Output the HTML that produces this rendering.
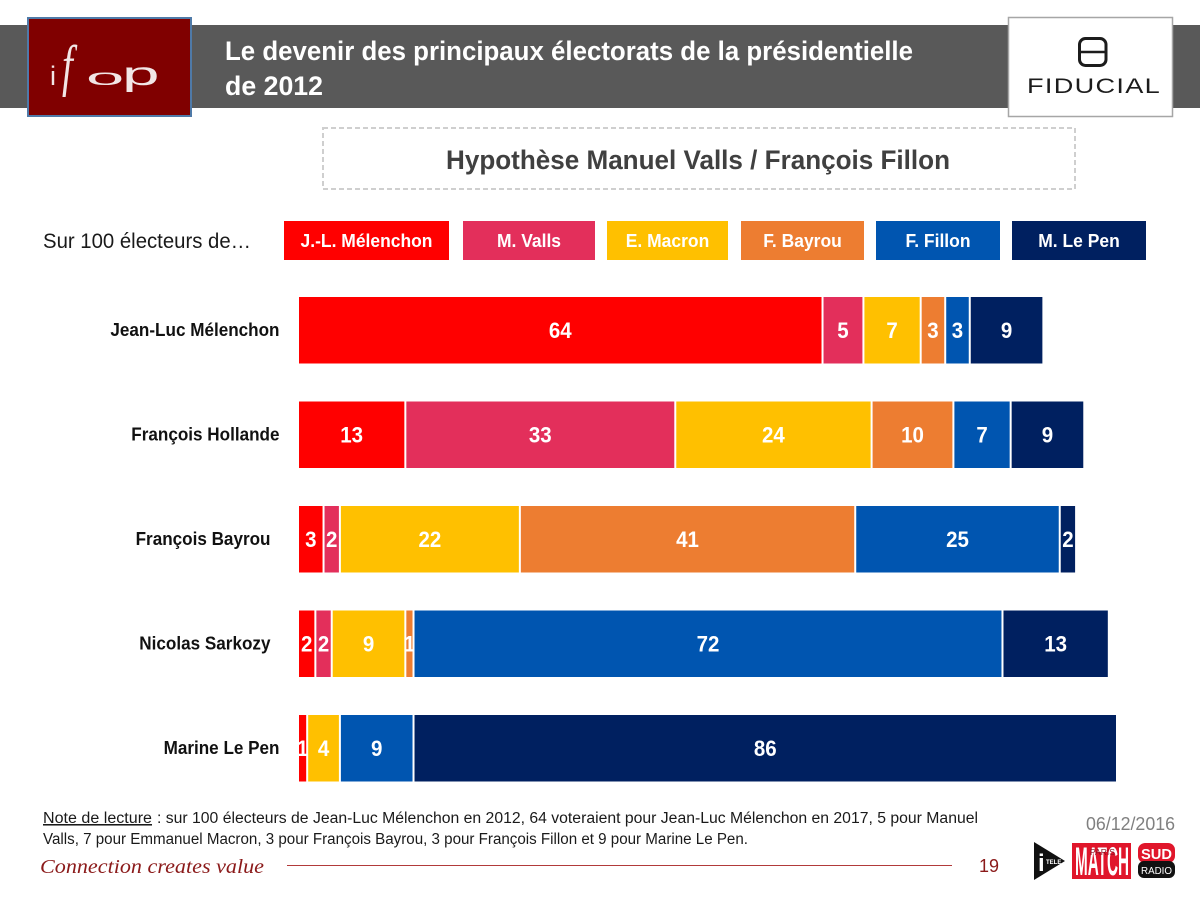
<!DOCTYPE html>
<html lang="fr">
<head>
<meta charset="utf-8">
<title>Le devenir des principaux électorats de la présidentielle de 2012</title>
<style>
html,body{margin:0;padding:0;background:#fff;}
svg{display:block;font-family:"Liberation Sans",sans-serif;}
</style>
</head>
<body>
<svg id="chart" width="1200" height="900" viewBox="0 0 1200 900" xmlns="http://www.w3.org/2000/svg">
  <rect x="0" y="0" width="1200" height="900" fill="#ffffff"/>
  <rect x="0" y="25" width="1200" height="83" fill="#595959"/>

  <g>
    <rect x="28" y="18" width="163" height="98" fill="#800000" stroke="#4f7aa8" stroke-width="2"/>
    <text x="50" y="85" font-size="27" fill="#f2e6e6">i</text>
    <text transform="translate(62,85) scale(1.5,2.2)" font-size="26" font-style="italic" font-family="Liberation Serif" fill="#f2e6e6">f</text>
    <text transform="translate(86,85) scale(2.55,0.85)" font-size="27" fill="#f2e6e6">o</text>
    <text transform="translate(122,85) scale(2.5,1.25)" font-size="27" fill="#f2e6e6">p</text>
  </g>

  <text x="225" y="60" font-size="27" font-weight="700" fill="#ffffff" textLength="688" lengthAdjust="spacingAndGlyphs">Le devenir des principaux électorats de la présidentielle</text>
  <text x="225" y="95" font-size="27" font-weight="700" fill="#ffffff" textLength="98" lengthAdjust="spacingAndGlyphs">de 2012</text>

  <g>
    <rect x="1008.5" y="17.5" width="164" height="99" fill="#ffffff" stroke="#a6a6a6" stroke-width="1.5"/>
    <rect x="1079.5" y="38.5" width="26.5" height="27" rx="6" fill="none" stroke="#1c1c1c" stroke-width="3"/>
    <line x1="1080" y1="52" x2="1106" y2="52" stroke="#1c1c1c" stroke-width="2.4"/>
    <text x="1027" y="93" font-size="21" fill="#1c1c1c" textLength="134" lengthAdjust="spacingAndGlyphs" letter-spacing="1">FIDUCIAL</text>
  </g>

  <rect x="323" y="128" width="752" height="61" fill="#ffffff" stroke="#cfcfcf" stroke-width="2" stroke-dasharray="5 3"/>
  <text x="446" y="169" font-size="27" font-weight="700" fill="#404040" textLength="504" lengthAdjust="spacingAndGlyphs">Hypothèse Manuel Valls / François Fillon</text>

  <text x="43" y="248" font-size="21" fill="#1a1a1a" textLength="208" lengthAdjust="spacingAndGlyphs">Sur 100 électeurs de…</text>

  <g id="legend"></g>
  <g id="plot"></g>

  <text x="43" y="823" font-size="15.5" fill="#1a1a1a" text-decoration="underline" textLength="109" lengthAdjust="spacingAndGlyphs">Note de lecture</text>
  <text x="157" y="823" font-size="15.5" fill="#1a1a1a" textLength="821" lengthAdjust="spacingAndGlyphs">: sur 100 électeurs de Jean-Luc Mélenchon en 2012, 64 voteraient pour Jean-Luc Mélenchon en 2017, 5 pour Manuel</text>
  <text x="43" y="844" font-size="15.5" fill="#1a1a1a" textLength="705" lengthAdjust="spacingAndGlyphs">Valls, 7 pour Emmanuel Macron, 3 pour François Bayrou, 3 pour François Fillon et 9 pour Marine Le Pen.</text>

  <text x="40" y="873" font-size="20" font-style="italic" font-family="Liberation Serif" fill="#8b1a1a" textLength="224" lengthAdjust="spacingAndGlyphs">Connection creates value</text>
  <line x1="287" y1="865.5" x2="952" y2="865.5" stroke="#b23a3a" stroke-width="1"/>
  <text x="979" y="872" font-size="18" fill="#8b1a1a" textLength="20" lengthAdjust="spacingAndGlyphs">19</text>
  <text x="1086" y="830" font-size="18" fill="#808080" textLength="89" lengthAdjust="spacingAndGlyphs">06/12/2016</text>

  <g>
    <polygon points="1034,842 1065,861 1034,880" fill="#111111"/>
    <text x="1038" y="871" font-size="24" font-weight="700" fill="#ffffff">i</text>
    <text x="1046" y="864" font-size="6" font-weight="700" fill="#ffffff">TELE</text>
  </g>
  <g>
    <rect x="1072" y="843" width="59" height="36" fill="#e0162b"/>
    <text x="1075" y="875" font-size="40" font-weight="700" fill="#ffffff" textLength="54" lengthAdjust="spacingAndGlyphs">MATCH</text>
    <text x="1090" y="855" font-size="8" fill="#8b1020" textLength="25" lengthAdjust="spacingAndGlyphs">PARIS</text>
  </g>
  <g>
    <rect x="1138" y="843" width="37" height="20" rx="7" fill="#e0162b"/>
    <rect x="1138" y="861" width="37" height="17" rx="6" fill="#111111"/>
    <text x="1141" y="859" font-size="15" font-weight="700" fill="#ffffff" textLength="31" lengthAdjust="spacingAndGlyphs">SUD</text>
    <text x="1141" y="874" font-size="10" fill="#ffffff" textLength="31" lengthAdjust="spacingAndGlyphs">RADIO</text>
  </g>
</svg>
<script>
const categories = ["Jean-Luc Mélenchon", "François Hollande", "François Bayrou", "Nicolas Sarkozy", "Marine Le Pen"];
const seriesNames = ["J.-L. Mélenchon", "M. Valls", "E. Macron", "F. Bayrou", "F. Fillon", "M. Le Pen"];
const melenchonValues = [64, 13, 3, 2, 1];
const vallsValues = [5, 33, 2, 2, 0];
const macronValues = [7, 24, 22, 9, 4];
const bayrouValues = [3, 10, 41, 1, 0];
const fillonValues = [3, 7, 25, 72, 9];
const lePenValues = [9, 9, 2, 13, 86];

const allSeries = [melenchonValues, vallsValues, macronValues, bayrouValues, fillonValues, lePenValues];
const seriesColors = ["#ff0000", "#e32f5b", "#ffc000", "#ed7d31", "#0055b0", "#002060"];
const legendBoxes = [[284, 165], [463, 132], [607, 121], [741, 123], [876, 124], [1012, 134]];
const narrowLabelRows = new Set([2, 3]);

const SVG_NS = "http://www.w3.org/2000/svg";
const plot = document.getElementById("plot");
const legend = document.getElementById("legend");

function xScale(v) { return 299 + v * 8.18; }
function rowTop(i) { return 297 + i * 104.5; }
const rowHeight = 66.5;

function make(tag, attrs, parent, content) {
  const el = document.createElementNS(SVG_NS, tag);
  Object.keys(attrs).forEach(function (k) { el.setAttribute(k, attrs[k]); });
  if (content !== undefined) el.textContent = content;
  parent.appendChild(el);
  return el;
}

function condense(el, factor) {
  el.setAttribute("textLength", (el.getComputedTextLength() * factor).toFixed(1));
  el.setAttribute("lengthAdjust", "spacingAndGlyphs");
}

seriesNames.forEach(function (name, s) {
  const box = legendBoxes[s];
  const swatch = make("rect", { x: box[0], y: 221, width: box[1], height: 39, fill: seriesColors[s] }, legend);
  
  
  const label = make("text", {
    x: box[0] + box[1] / 2, y: 247, "text-anchor": "middle",
    "font-size": 18, "font-weight": 700, fill: "#ffffff"
  }, legend, name);
  
  
  condense(label, 0.97);
});

categories.forEach(function (cat, i) {
  const top = rowTop(i);
  const right = narrowLabelRows.has(i) ? 270.5 : 279.5;
  const catLabel = make("text", {
    x: right, y: top + rowHeight / 2 + 5.5, "text-anchor": "end",
    "font-size": 18, "font-weight": 700, fill: "#111111"
  }, plot, cat);
  
  
  condense(catLabel, 0.95);

  let cum = 0;
  allSeries.forEach(function (values, s) {
    const v = values[i];
    if (!v) return;
    const x0 = xScale(cum) + (cum === 0 ? 0 : 1);
    const x1 = xScale(cum + v) - 1;
    const bar = make("rect", { x: x0, y: top, width: x1 - x0, height: rowHeight, fill: seriesColors[s] }, plot);
    
    
    const valueLabel = make("text", {
      x: (x0 + x1) / 2, y: top + rowHeight / 2 + 7.5, "text-anchor": "middle",
      "font-size": 22, "font-weight": 700, fill: "#ffffff"
    }, plot, String(v));
    
    
    condense(valueLabel, 0.93);
    cum += v;
  });
});
</script>
</body>
</html>
